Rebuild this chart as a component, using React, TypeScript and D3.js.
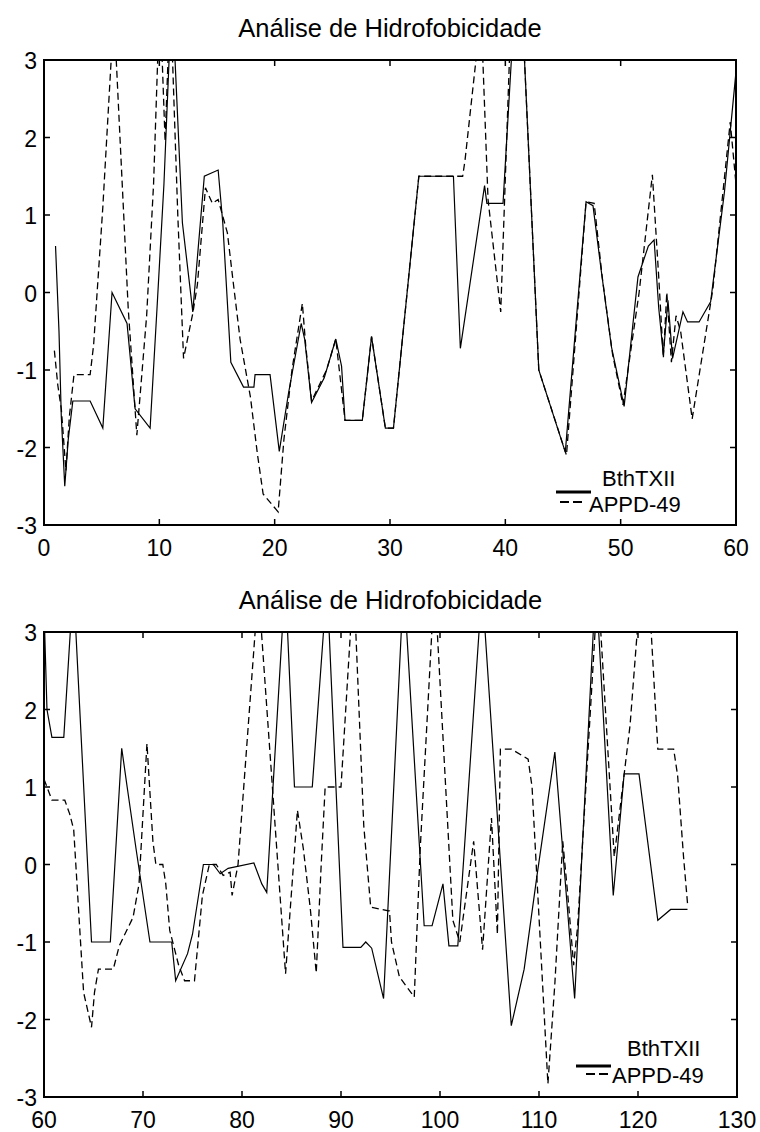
import React from 'react';
import * as d3 from 'd3';

const TITLE = 'Análise de Hidrofobicidade';
const LEGEND_LABELS = ['BthTXII', 'APPD-49'];

const yTicks = [-3, -2, -1, 0, 1, 2, 3];
const topXTicks = [0, 10, 20, 30, 40, 50, 60];
const bottomXTicks = [60, 70, 80, 90, 100, 110, 120, 130];

// ---- Top panel: BthTXII (solid)
const topSolidX = [1.0, 1.3, 1.5, 1.8, 2.1, 2.5, 4.0, 5.1, 5.9, 7.2, 7.9, 9.2, 9.8, 10.4, 10.9, 11.3, 12.0, 12.9, 13.9, 15.1, 15.5, 16.2, 17.3, 18.2, 18.3, 19.6, 20.4, 21.2, 22.3, 22.6, 23.2, 24.3, 25.3, 25.8, 26.1, 27.6, 28.4, 29.6, 30.3, 32.5, 35.5, 36.1, 38.2, 38.4, 39.8, 40.6, 41.6, 42.9, 45.2, 47.0, 47.6, 48.3, 49.2, 50.3, 51.5, 52.4, 52.9, 53.3, 53.7, 54.1, 54.5, 55.4, 55.8, 56.8, 57.8, 59.0, 60.0];
const topSolidY = [0.6, -0.5, -1.6, -2.5, -1.9, -1.4, -1.4, -1.75, 0.0, -0.4, -1.5, -1.75, -0.2, 1.4, 3.2, 3.2, 0.9, -0.25, 1.5, 1.58, 0.9, -0.9, -1.22, -1.22, -1.06, -1.06, -2.05, -1.3, -0.4, -0.6, -1.42, -1.1, -0.6, -0.95, -1.65, -1.65, -0.57, -1.75, -1.75, 1.5, 1.5, -0.72, 1.38, 1.15, 1.15, 3.2, 3.2, -1.0, -2.06, 1.17, 1.12, 0.3, -0.7, -1.47, 0.2, 0.6, 0.68, -0.2, -0.8, -0.1, -0.85, -0.25, -0.38, -0.38, -0.12, 1.3, 2.85];

// ---- Top panel: APPD-49 (dashed)
const topDashX = [0.9, 1.2, 1.5, 1.9, 2.2, 2.6, 4.0, 4.3, 5.1, 5.9, 6.2, 7.3, 8.05, 8.9, 9.5, 9.9, 10.2, 10.5, 10.8, 11.1, 11.6, 12.1, 12.9, 13.3, 14.0, 14.6, 15.1, 15.9, 16.4, 17.0, 17.9, 18.5, 19.0, 20.3, 20.8, 21.5, 22.4, 22.7, 23.2, 24.5, 25.3, 26.1, 27.6, 28.4, 29.6, 30.3, 32.5, 36.3, 36.5, 37.6, 38.0, 38.5, 39.6, 40.4, 41.6, 42.9, 45.3, 47.0, 47.7, 48.4, 49.3, 50.2, 51.6, 52.75, 53.3, 53.7, 54.0, 54.4, 54.8, 55.2, 56.2, 58.0, 59.5, 60.0];
const topDashY = [-0.75, -1.2, -1.5, -2.3, -1.6, -1.06, -1.06, -0.68, 1.1, 3.2, 3.2, -0.2, -1.84, -0.3, 1.4, 3.2, 3.2, 1.95, 3.2, 3.2, 1.0, -0.85, -0.27, 0.1, 1.35, 1.15, 1.2, 0.77, 0.14, -0.6, -1.35, -2.08, -2.6, -2.83, -1.9, -1.0, -0.14, -0.7, -1.4, -1.0, -0.6, -1.65, -1.65, -0.57, -1.75, -1.75, 1.5, 1.5, 1.7, 3.2, 3.2, 1.2, -0.25, 3.2, 3.2, -1.0, -2.1, 1.17, 1.15, 0.2, -0.8, -1.45, 0.0, 1.52, 0.2, -0.85, 0.0, -0.9, -0.3, -0.5, -1.63, 0.05, 2.2, 1.4];

// ---- Bottom panel: BthTXII (solid)
const botSolidX = [60.0, 60.3, 60.8, 62.0, 62.8, 63.1, 64.8, 66.7, 67.85, 68.4, 69.3, 70.7, 72.9, 73.3, 74.5, 75.0, 76.1, 77.1, 77.8, 78.6, 81.2, 82.0, 82.5, 84.2, 84.5, 85.3, 87.1, 88.4, 88.7, 90.2, 92.0, 92.5, 93.1, 94.3, 96.2, 96.5, 98.4, 99.2, 100.3, 100.9, 101.8, 104.1, 104.4, 107.2, 108.5, 109.8, 111.6, 113.6, 115.6, 115.9, 117.5, 118.6, 120.1, 122.0, 123.3, 125.0];
const botSolidY = [3.3, 2.0, 1.64, 1.64, 3.3, 3.3, -1.0, -1.0, 1.5, 1.0, 0.2, -1.0, -1.0, -1.5, -1.15, -0.9, 0.0, 0.0, -0.12, -0.05, 0.02, -0.25, -0.36, 3.3, 3.3, 1.0, 1.0, 3.3, 3.3, -1.07, -1.07, -1.0, -1.08, -1.73, 3.3, 3.3, -0.79, -0.79, -0.25, -1.05, -1.05, 3.3, 3.3, -2.08, -1.35, -0.14, 1.45, -1.73, 3.3, 3.3, -0.4, 1.17, 1.17, -0.72, -0.58, -0.58];

// ---- Bottom panel: APPD-49 (dashed)
const botDashX = [60.0, 60.3, 60.8, 62.1, 62.6, 63.0, 64.0, 64.8, 65.1, 65.5, 67.0, 67.6, 69.0, 69.6, 70.4, 71.0, 71.3, 72.0, 72.3, 72.7, 73.6, 74.2, 75.2, 76.0, 76.7, 77.4, 78.1, 78.8, 79.0, 79.6, 81.5, 81.8, 84.4, 85.6, 86.2, 86.9, 87.5, 88.0, 88.4, 90.0, 91.1, 91.4, 92.3, 93.0, 94.9, 95.1, 95.9, 97.4, 98.0, 99.3, 99.6, 101.3, 102.0, 103.4, 104.3, 105.2, 105.8, 106.1, 107.2, 108.9, 109.3, 109.8, 110.9, 111.6, 112.4, 112.9, 113.5, 113.9, 115.8, 116.1, 117.6, 119.2, 120.1, 121.2, 122.0, 123.6, 124.0, 124.6, 125.0];
const botDashY = [1.1, 1.0, 0.83, 0.83, 0.65, 0.45, -1.65, -2.1, -1.65, -1.35, -1.35, -1.05, -0.68, -0.25, 1.56, 0.3, 0.0, 0.0, -0.25, -0.85, -1.3, -1.5, -1.5, -0.4, 0.0, 0.0, -0.14, -0.1, -0.4, 0.0, 3.3, 3.3, -1.41, 0.7, 0.2, -0.57, -1.4, 0.0, 1.0, 1.0, 3.3, 3.3, 0.5, -0.55, -0.6, -1.0, -1.45, -1.71, 0.2, 3.3, 3.3, -0.72, -1.0, 0.3, -1.1, 0.6, -0.9, 1.49, 1.49, 1.36, 1.0, -0.2, -2.83, -1.54, 0.3, -0.38, -1.3, -0.8, 3.3, 3.3, 0.1, 1.8, 3.3, 3.3, 1.49, 1.49, 1.15, 0.1, -0.5];

const FONT = '"Liberation Sans", Arial, Helvetica, sans-serif';

type Box = { left: number; right: number; top: number; bottom: number };
type LegendPos = {
  t1x: number; t1y: number; t2x: number; t2y: number;
  s1: [number, number, number]; s2: [number, number, number];
};

function Panel(props: {
  id: string;
  box: Box;
  xDomain: [number, number];
  xTicks: number[];
  titleY: number;
  solid: [number[], number[]];
  dash: [number[], number[]];
  legend: LegendPos;
}) {
  const { id, box, xDomain, xTicks, titleY, solid, dash, legend } = props;
  const x = d3.scaleLinear().domain(xDomain).range([box.left, box.right]);
  const y = d3.scaleLinear().domain([-3, 3]).range([box.bottom, box.top]);
  const line = d3
    .line<[number, number]>()
    .x((d) => x(d[0]))
    .y((d) => y(d[1]));
  const pts = (s: [number[], number[]]) => s[0].map((v, i) => [v, s[1][i]] as [number, number]);
  const tl = 6;
  const cx = (box.left + box.right) / 2;
  return (
    <g>
      <defs>
        <clipPath id={id}>
          <rect x={box.left} y={box.top} width={box.right - box.left} height={box.bottom - box.top} />
        </clipPath>
      </defs>
      <text x={cx} y={titleY} textAnchor="middle" fontSize={25.5} fontFamily={FONT} fill="#000">
        {TITLE}
      </text>
      <g clipPath={`url(#${id})`}>
        <path d={line(pts(dash)) || ''} fill="none" stroke="#000" strokeWidth={1.3} strokeDasharray="7,4" />
        <path d={line(pts(solid)) || ''} fill="none" stroke="#000" strokeWidth={1.2} />
      </g>
      <rect
        x={box.left}
        y={box.top}
        width={box.right - box.left}
        height={box.bottom - box.top}
        fill="none"
        stroke="#000"
        strokeWidth={2}
      />
      {xTicks.map((t) => (
        <g key={'x' + t}>
          <line x1={x(t)} x2={x(t)} y1={box.bottom} y2={box.bottom - tl} stroke="#000" strokeWidth={1.5} />
          <line x1={x(t)} x2={x(t)} y1={box.top} y2={box.top + tl} stroke="#000" strokeWidth={1.5} />
          <text x={x(t)} y={box.bottom + 31} textAnchor="middle" fontSize={23} fontFamily={FONT} fill="#000">
            {t}
          </text>
        </g>
      ))}
      {yTicks.map((t) => (
        <g key={'y' + t}>
          <line x1={box.left} x2={box.left + tl} y1={y(t)} y2={y(t)} stroke="#000" strokeWidth={1.5} />
          <line x1={box.right} x2={box.right - tl} y1={y(t)} y2={y(t)} stroke="#000" strokeWidth={1.5} />
          <text x={37} y={y(t) + 9} textAnchor="end" fontSize={23} fontFamily={FONT} fill="#000">
            {t}
          </text>
        </g>
      ))}
      <text x={legend.t1x} y={legend.t1y} fontSize={22} fontFamily={FONT} fill="#000">
        {LEGEND_LABELS[0]}
      </text>
      <text x={legend.t2x} y={legend.t2y} fontSize={22} fontFamily={FONT} fill="#000">
        {LEGEND_LABELS[1]}
      </text>
      <line x1={legend.s1[0]} x2={legend.s1[1]} y1={legend.s1[2]} y2={legend.s1[2]} stroke="#000" strokeWidth={3} />
      <line
        x1={legend.s2[0]}
        x2={legend.s2[1]}
        y1={legend.s2[2]}
        y2={legend.s2[2]}
        stroke="#000"
        strokeWidth={2}
        strokeDasharray="9,4"
      />
    </g>
  );
}

export default function App() {
  return (
    <svg
      width={760}
      height={1132}
      style={{ position: 'absolute', left: 0, top: 0, background: '#fff' }}
    >
      <rect x={0} y={0} width={760} height={1132} fill="#fff" />
      <Panel
        id="clipTop"
        box={{ left: 44, right: 736, top: 60, bottom: 525 }}
        xDomain={[0, 60]}
        xTicks={topXTicks}
        titleY={37}
        solid={[topSolidX, topSolidY]}
        dash={[topDashX, topDashY]}
        legend={{ t1x: 602, t1y: 486, t2x: 589, t2y: 512, s1: [556, 591, 492], s2: [560, 584, 502] }}
      />
      <Panel
        id="clipBot"
        box={{ left: 44, right: 737, top: 632, bottom: 1097 }}
        xDomain={[60, 130]}
        xTicks={bottomXTicks}
        titleY={609}
        solid={[botSolidX, botSolidY]}
        dash={[botDashX, botDashY]}
        legend={{ t1x: 627, t1y: 1056, t2x: 612, t2y: 1083, s1: [576, 611, 1066], s2: [586, 609, 1074] }}
      />
    </svg>
  );
}
